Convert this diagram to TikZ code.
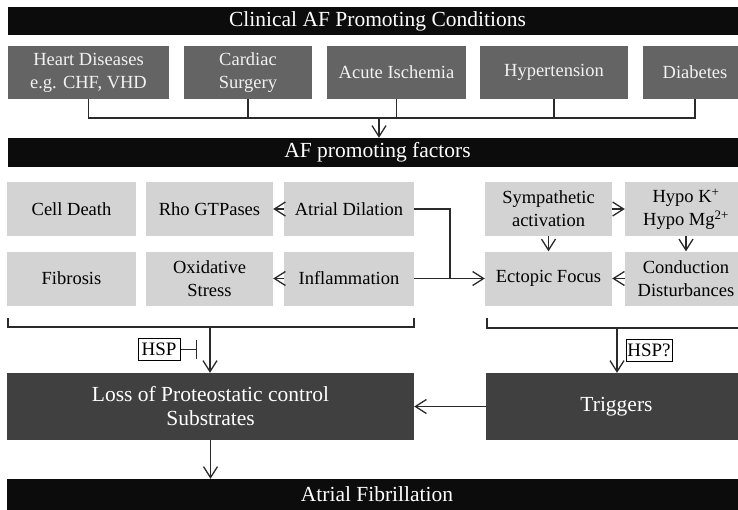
\documentclass[tikz,border=0pt]{standalone}
\usepackage{fontspec}
\setmainfont{Liberation Serif}
\usetikzlibrary{arrows.meta}
\definecolor{barblack}{HTML}{0C0C0C}
\definecolor{midgray}{HTML}{646464}
\definecolor{lightbox}{HTML}{D3D3D3}
\definecolor{darkbox}{HTML}{404040}
\definecolor{lightext}{HTML}{F2F2F2}
\definecolor{linecol}{HTML}{2A2A2A}
\begin{document}
\begin{tikzpicture}[x=1pt,y=-1pt,
  bar/.style={fill=barblack, text=white, font=\fontsize{21.5}{24}\selectfont, inner sep=0, align=center},
  cond/.style={fill=midgray, text=lightext, font=\fontsize{18.5}{23}\selectfont, align=center, inner sep=0},
  factor/.style={fill=lightbox, text=black, font=\fontsize{18.5}{23}\selectfont, align=center, inner sep=0, minimum height=54},
  core/.style={fill=darkbox, text=white, font=\fontsize{21.5}{24}\selectfont, align=center, inner sep=0, minimum height=67},
  tag/.style={draw=black, line width=1pt, fill=white, font=\fontsize{19}{21}\selectfont, inner sep=0, minimum height=22},
  conn/.style={draw=linecol, line width=1.3pt},
  arr/.style={conn, -{Straight Barb[length=11pt,width=14pt,line width=1.3pt]}}
]
\clip (0,0) rectangle (738,509);
\fill[white] (0,0) rectangle (738,509);

% title bars
\node[bar, minimum width=739, minimum height=28] (top) at (377.5,21) {Clinical AF Promoting Conditions};
\node[bar, minimum width=739, minimum height=29] (mid) at (377.5,152.5) {AF promoting factors};
\node[bar, minimum width=740, minimum height=31] (bot) at (377,494.5) {Atrial Fibrillation};

% conditions
\node[cond, minimum width=161, minimum height=53] (b1) at (88.5,72.5) {Heart Diseases\\e.g. CHF, VHD};
\node[cond, minimum width=128, minimum height=53] (b2) at (248,72.5) {Cardiac\\Surgery};
\node[cond, minimum width=139, minimum height=53] (b3) at (396.5,72.5) {Acute Ischemia};
\node[cond, minimum width=148, minimum height=53] (b4) at (554,72.5) {Hypertension};
\node[cond, minimum width=104, minimum height=53] (b5) at (695,72.5) {Diabetes};

\coordinate (jn) at (379,118);
\draw[conn] (b1.south) |- (jn);
\draw[conn] (b2.south) |- (jn);
\draw[conn] (b3.south) |- (jn);
\draw[conn] (b4.south) |- (jn);
\draw[conn] (b5.south) |- (jn);
\draw[arr] (jn) -- (jn |- mid.north);

% factors
\node[factor, minimum width=129] (death) at (71.5,209) {Cell Death};
\node[factor, minimum width=127] (rho) at (209.5,209) {Rho GTPases};
\node[factor, minimum width=130] (dil) at (349,209) {Atrial Dilation};
\node[factor, minimum width=129] (fib) at (71.5,278.5) {Fibrosis};
\node[factor, minimum width=127] (ox) at (209.5,278.5) {Oxidative\\Stress};
\node[factor, minimum width=130] (infl) at (349,278.5) {Inflammation};

\node[factor, minimum width=127] (symp) at (548.5,209) {Sympathetic\\activation};
\node[factor, minimum width=122] (hypo) at (686,209) {Hypo K\textsuperscript{+}\\Hypo Mg\textsuperscript{2+}};
\node[factor, minimum width=127] (ect) at (548.5,278.5) {Ectopic Focus};
\node[factor, minimum width=122] (cond) at (686,278.5) {Conduction\\Disturbances};

\draw[arr] (dil.west) -- (rho.east);
\draw[arr] (infl.west) -- (ox.east);
\coordinate (mj) at (450,278.5);
\draw[conn] (dil.east) -| (mj);
\draw[arr] (infl.east) -- (ect.west);
\draw[arr] (symp.east) -- (hypo.west);
\draw[arr] (symp.south) -- (ect.north);
\draw[arr] (hypo.south) -- (cond.north);
\draw[arr] (cond.west) -- (ect.east);

% brackets
\coordinate (la) at (8,318);
\coordinate (lb) at (414,318);
\coordinate (lstem) at (210,327);
\draw[conn] (la) |- (lstem) -| (lb);
\coordinate (ra) at (487,318);
\coordinate (rb) at (747,318);
\coordinate (rstem) at (617,328);
\draw[conn] (ra) |- (rstem) -| (rb);

% core boxes
\node[core, minimum width=407] (loss) at (210.5,406.5) {Loss of Proteostatic control\\Substrates};
\node[core, minimum width=261] (trig) at (616.5,406.5) {Triggers};

\draw[arr] (lstem) -- (lstem |- loss.north);
\draw[arr] (rstem) -- (rstem |- trig.north);
\draw[arr] (trig.west) -- (loss.east);
\draw[arr] (loss.south) -- (loss.south |- bot.north);

% HSP tags
\node[tag, minimum width=42] (hsp) at (159,349.5) {HSP};
\coordinate (inh) at (197,349.5);
\draw[conn,-{Bar[width=19pt,line width=1.3pt]}] (hsp.east) -- (inh);
\node[tag, minimum width=46] (hspq) at (649,350.5) {HSP?};
\end{tikzpicture}
\end{document}
